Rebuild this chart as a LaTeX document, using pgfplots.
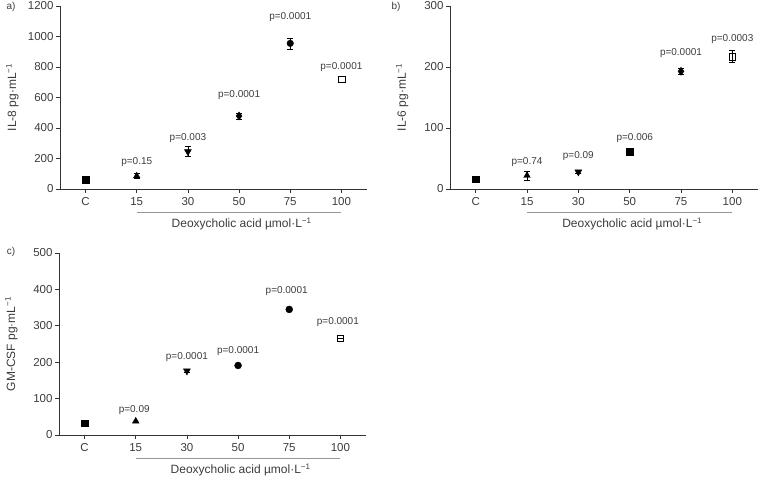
\documentclass[border=0pt]{standalone}
\usepackage{pgfplots}
\pgfplotsset{compat=1.18}
\usepackage{fontspec}
\setmainfont{Liberation Sans}
\definecolor{txt}{RGB}{60,60,60}
\definecolor{brkcol}{RGB}{150,150,150}
\newcommand{\pP}[3]{\addplot[only marks, black, mark size=3.3pt, mark=#1] coordinates {(#2,#3)};}
\newcommand{\pE}[4]{\addplot[only marks, black, mark size=3.3pt, mark=#1,
   error bars/.cd, y dir=both, y explicit, error mark options={black, mark size=3pt, line width=0.6pt, rotate=90}, error bar style={line width=0.6pt}]
   coordinates {(#2,#3) +- (0,#4)};}
\tikzset{
  plab/.style={font=\fontsize{10}{12}\selectfont, color=txt, anchor=center},
  brkline/.style={draw=brkcol, line width=0.9pt},
}
\begin{document}
\begin{tikzpicture}
\useasboundingbox (0pt,0pt) rectangle (758pt,478pt);
\pgfplotsset{
  panel/.style={scale only axis, width=307pt, height=183pt, anchor=south west,
    axis lines*=left, xmin=-0.5, xmax=5.5, xtick={0,...,5},
    xticklabels={C,15,30,50,75,100}, ymin=0, clip=false,
    tick align=outside, major tick length=4pt,
    axis line style={line width=0.6pt, black!80},
    every tick/.style={line width=0.6pt, black!80},
    tick label style={font=\fontsize{11.5}{13}\selectfont, color=txt},
    yticklabel style={xshift=1pt},
    /pgf/number format/assume math mode=true,
    /pgf/number format/1000 sep={},
    ylabel style={at={(axis description cs:-0.155,0.5)}, anchor=center, font=\fontsize{12}{14}\selectfont, color=txt},
    xticklabel style={yshift=-1pt}},
}
\newcommand{\bracket}{%
  \draw[brkline] ([yshift=-23pt]axis cs:1,0) -- ([yshift=-23pt]axis cs:5,0);
  \node[font=\fontsize{12}{14}\selectfont, color=txt] at ([yshift=-35pt]axis cs:3.05,0) {Deoxycholic acid µmol·L\textsuperscript{−1}};}

% ---------- a ----------
\begin{axis}[panel, at={(60pt,289pt)}, ymax=1200, ytick={0,200,...,1200},
  ylabel={IL-8 pg·mL\textsuperscript{−1}}]
\pP{square*}{0}{60}
\pE{triangle*, mark size=3.8pt}{1}{85}{15}
\pE{triangle*, mark size=4pt, mark options={rotate=180}}{2}{245}{33}
\pE{diamond*, mark size=4pt}{3}{479}{20}
\pE{*}{4}{955}{36}
\pP{square, mark options={fill=white}}{5}{719}
\node[plab] at (axis cs:1,177) {p=0.15};
\node[plab] at (axis cs:2,334) {p=0.003};
\node[plab] at (axis cs:3,616) {p=0.0001};
\node[plab] at (axis cs:4,1128) {p=0.0001};
\node[plab] at (axis cs:5,800) {p=0.0001};
\bracket
\end{axis}
\node[font=\fontsize{10}{12}\selectfont, color=txt] at (11pt,471pt) {a)};

% ---------- b ----------
\begin{axis}[panel, width=308pt, at={(450pt,289pt)}, ymax=300, ytick={0,100,200,300},
  ylabel={IL-6 pg·mL\textsuperscript{−1}}]
\pP{square*}{0}{16}
\pE{triangle*, mark size=3.8pt}{1}{22}{7}
\pE{triangle*, mark size=4pt, mark options={rotate=180}}{2}{28}{3}
\pP{square*}{3}{61}
\pE{diamond*, mark size=4pt}{4}{193}{5}
\pE{square, mark options={fill=white}}{5}{217}{10}
\node[plab] at (axis cs:1,43.8) {p=0.74};
\node[plab] at (axis cs:2,54.6) {p=0.09};
\node[plab] at (axis cs:3.1,84) {p=0.006};
\node[plab] at (axis cs:4,222.5) {p=0.0001};
\node[plab] at (axis cs:5,245.4) {p=0.0003};
\bracket
\end{axis}
\node[font=\fontsize{10}{12}\selectfont, color=txt] at (396pt,471pt) {b)};

% ---------- c ----------
\begin{axis}[panel, height=182pt, at={(59pt,43pt)}, ymax=500, ytick={0,100,...,500},
  ylabel={GM-CSF pg·mL\textsuperscript{−1}}]
\pP{square*}{0}{32}
\pP{triangle*, mark size=3.8pt}{1}{38}
\pE{triangle*, mark size=4pt, mark options={rotate=180}}{2}{176}{5}
\pP{*, mark size=3.5pt}{3}{191}
\pP{*, mark size=3.5pt}{4}{345}
\pP{square, mark options={fill=white}, mark size=3pt}{5}{266}
\addplot[only marks, black, mark=-, mark size=3pt] coordinates {(5,266)};
\node[plab] at (axis cs:0.97,68.7) {p=0.09};
\node[plab] at (axis cs:2,213) {p=0.0001};
\node[plab] at (axis cs:3,231.6) {p=0.0001};
\node[plab] at (axis cs:3.95,396) {p=0.0001};
\node[plab] at (axis cs:4.95,311) {p=0.0001};
\bracket
\end{axis}
\node[font=\fontsize{10}{12}\selectfont, color=txt] at (11pt,226pt) {c)};
\end{tikzpicture}
\end{document}
